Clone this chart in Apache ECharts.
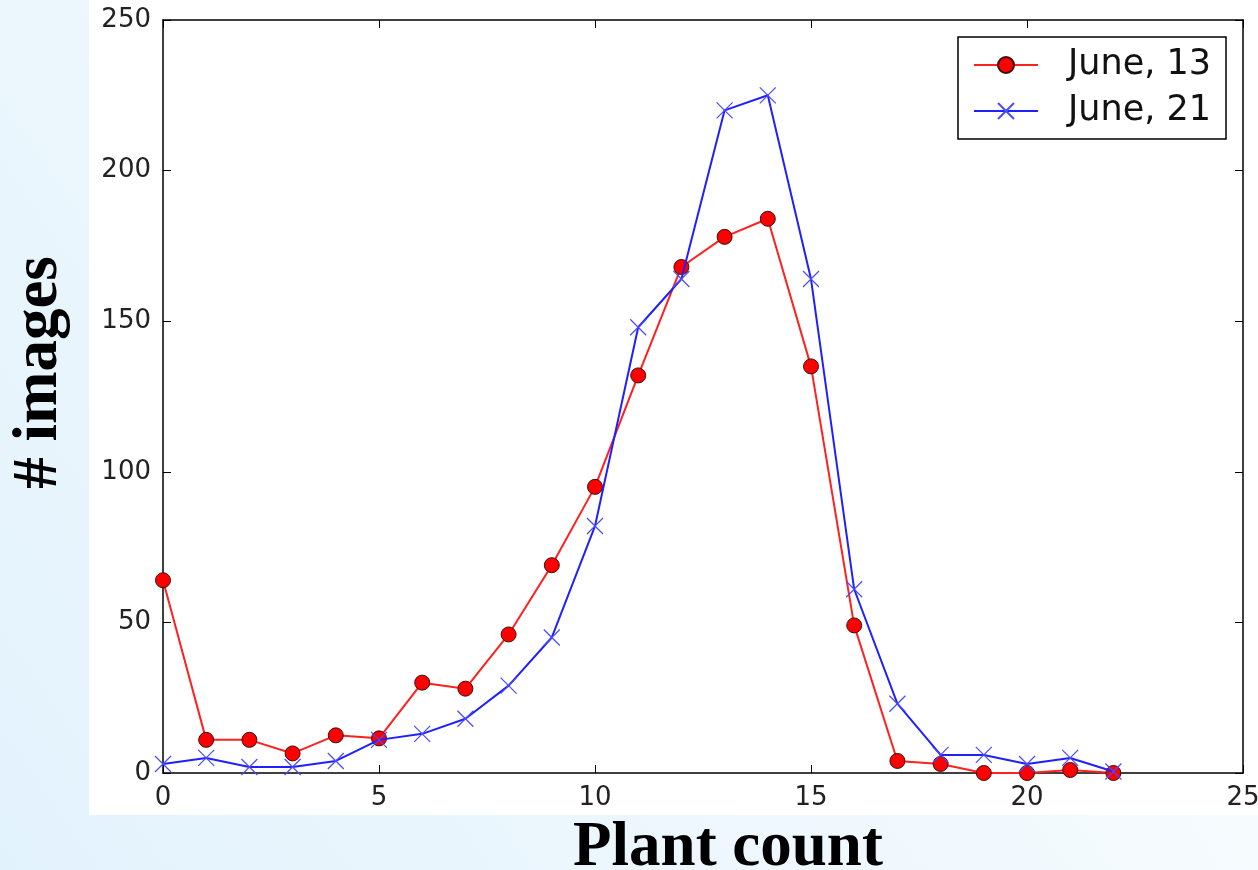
<!DOCTYPE html>
<html>
<head>
<meta charset="utf-8">
<script src="https://cdn.jsdelivr.net/npm/echarts@6/dist/echarts.min.js"></script>
<style>
  html, body { margin: 0; padding: 0; }
  #chart { width: 1258px; height: 870px; }
</style>
</head>
<body>
<div id="chart"></div>
<script>
// plant counts (x) and number of images per count
var counts = [0, 1, 2, 3, 4, 5, 6, 7, 8, 9, 10, 11, 12, 13, 14, 15, 16, 17, 18, 19, 20, 21, 22];
var june13 = [64, 11, 11, 6.5, 12.5, 11.5, 30, 28, 46, 69, 95, 132, 168, 178, 184, 135, 49, 4, 3, 0, 0, 1, 0];
var june21 = [3, 5, 2, 2, 4, 11, 13, 18, 29, 45, 82, 148, 164, 220, 225, 164, 61, 23, 6, 6, 3, 5, 0.5];
var xTicks = [0, 5, 10, 15, 20, 25];
var yTicks = [0, 50, 100, 150, 200, 250];

function pairs(ys) {
  var out = [];
  for (var i = 0; i < counts.length; i++) {
    out.push([counts[i], ys[i]]);
  }
  return out;
}

var chart = echarts.init(document.getElementById('chart'));

var tickFont = {fontFamily: 'DejaVu Sans', fontSize: 26, color: '#222'};
var nameFont = {fontFamily: 'Liberation Serif', fontWeight: 'bold', fontSize: 63, color: '#000'};
var frameLine = {show: true, onZero: false, lineStyle: {color: '#000', width: 1.5}};
var innerTick = {show: true, inside: true, length: 8, lineStyle: {color: '#000', width: 1}};

option = {
  backgroundColor: new echarts.graphic.LinearGradient(0, 1, 1, 0, [
    {offset: 0, color: '#e2f2fc'},
    {offset: 1, color: '#ffffff'}
  ]),
  animation: false,
  graphic: [{
    type: 'rect',
    z: -10,
    shape: {x: 89, y: 0, width: 1169, height: 815},
    style: {fill: '#ffffff'}
  }],
  grid: {left: 163, top: 20, right: 15, bottom: 97, outerBoundsMode: 'none', containLabel: false},
  legend: {
    left: 958,
    top: 37,
    orient: 'vertical',
    itemWidth: 64,
    itemHeight: 20,
    itemGap: 6,
    padding: [8, 15, 8, 15],
    borderColor: '#000',
    borderWidth: 1.5,
    backgroundColor: '#fff',
    textStyle: {fontFamily: 'DejaVu Sans', fontSize: 35, lineHeight: 40, color: '#111', padding: [0, 0, 0, 25]},
    data: ['June, 13', 'June, 21']
  },
  xAxis: [{
    type: 'value',
    min: xTicks[0],
    max: xTicks[xTicks.length - 1],
    interval: 5,
    name: 'Plant count',
    nameLocation: 'middle',
    nameGap: 44,
    nameTextStyle: Object.assign({padding: [0, 0, 0, 50]}, nameFont),
    axisLine: frameLine,
    axisTick: innerTick,
    axisLabel: Object.assign({margin: 12}, tickFont),
    splitLine: {show: false}
  }, {
    type: 'value',
    position: 'top',
    min: xTicks[0],
    max: xTicks[xTicks.length - 1],
    interval: 5,
    axisLine: frameLine,
    axisTick: innerTick,
    axisLabel: {show: false},
    splitLine: {show: false}
  }],
  yAxis: [{
    type: 'value',
    min: yTicks[0],
    max: yTicks[yTicks.length - 1],
    interval: 50,
    name: '# images',
    nameLocation: 'middle',
    nameGap: 92,
    nameTextStyle: Object.assign({padding: [0, 0, 0, 48]}, nameFont),
    axisLine: frameLine,
    axisTick: innerTick,
    axisLabel: Object.assign({margin: 12}, tickFont),
    splitLine: {show: false}
  }, {
    type: 'value',
    position: 'right',
    min: yTicks[0],
    max: yTicks[yTicks.length - 1],
    interval: 50,
    axisLine: frameLine,
    axisTick: innerTick,
    axisLabel: {show: false},
    splitLine: {show: false}
  }],
  series: [{
    name: 'June, 13',
    type: 'line',
    data: pairs(june13),
    symbol: 'circle',
    symbolSize: 15,
    lineStyle: {color: '#ff2020', width: 2},
    itemStyle: {color: '#ff0000', borderColor: '#3a1010', borderWidth: 1},
    z: 2
  }, {
    name: 'June, 21',
    type: 'line',
    data: pairs(june21),
    symbol: 'path://M0,0L10,10M10,0L0,10',
    symbolSize: 16,
    lineStyle: {color: '#2020ff', width: 2},
    itemStyle: {color: 'rgba(0,0,0,0)', borderColor: '#4a4aff', borderWidth: 1.2},
    z: 3
  }]
};

chart.setOption(option);
</script>
</body>
</html>
